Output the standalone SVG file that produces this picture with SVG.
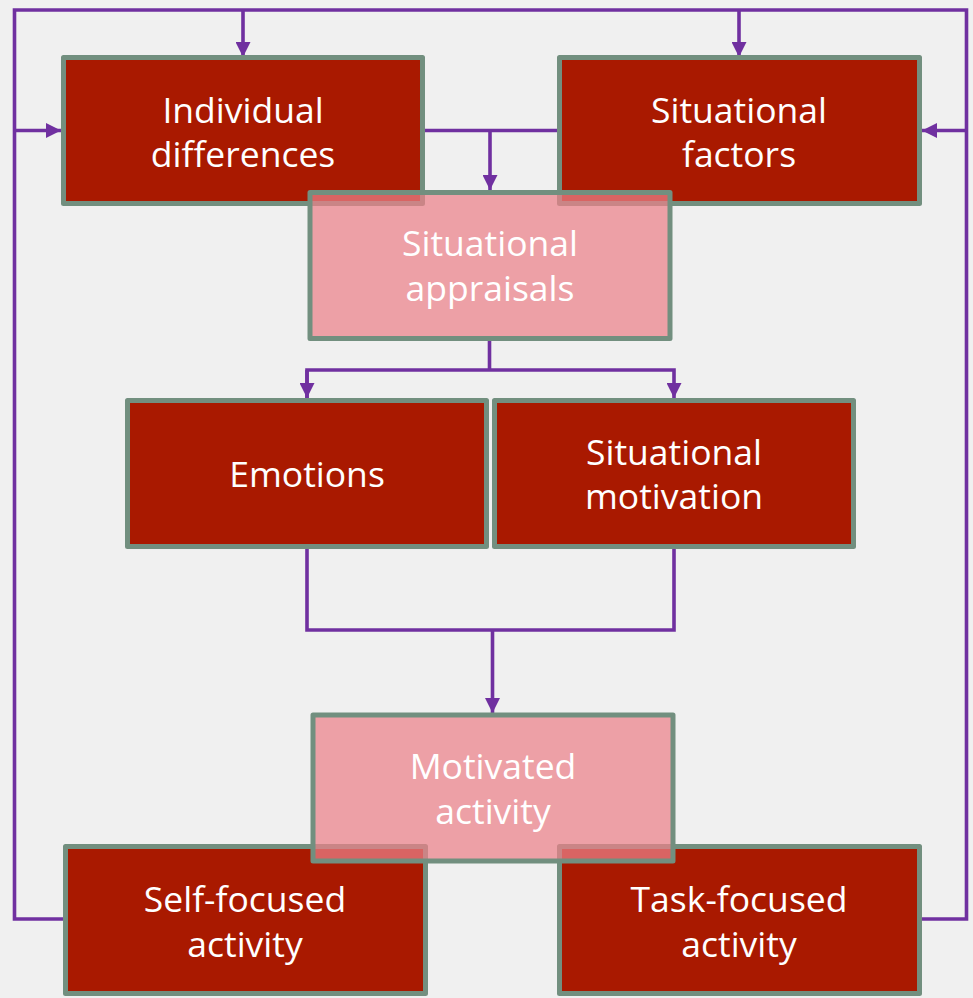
<svg xmlns="http://www.w3.org/2000/svg" width="973" height="998" viewBox="0 0 973 998">
  <style>
    .box { fill: #a91900; stroke: #728f7f; stroke-width: 5; stroke-linejoin: round; }
    .soft { fill: #ec8189; fill-opacity: 0.72; stroke: #728f7f; stroke-width: 5; stroke-linejoin: round; }
    .lbl { font-family: "Open Sans", "Noto Sans", sans-serif; font-size: 35.5px; fill: #ffffff; text-anchor: middle; }
    .wire { fill: none; stroke: #7030a0; stroke-width: 3.6; }
  </style>
  <defs>
    <marker id="tip" viewBox="0 0 10 10" refX="10" refY="5" markerWidth="15" markerHeight="15" orient="auto" markerUnits="userSpaceOnUse">
      <path d="M0,0 L10,5 L0,10 Z" fill="#7030a0"/>
    </marker>
  </defs>
  <rect width="973" height="998" fill="#f0f0f0"/>

  <g id="connectors">
    <!-- outer feedback loop -->
    <path class="wire" d="M65,919 H14.5 V10 H966.5 V919 H920"/>
    <path class="wire" d="M243,10 V57" marker-end="url(#tip)"/>
    <path class="wire" d="M739,10 V57" marker-end="url(#tip)"/>
    <path class="wire" d="M14.5,130.5 H61" marker-end="url(#tip)"/>
    <path class="wire" d="M966.5,130.5 H922" marker-end="url(#tip)"/>
    <!-- inputs to appraisals -->
    <path class="wire" d="M425,130.5 H557"/>
    <path class="wire" d="M490,130.5 V190" marker-end="url(#tip)"/>
    <!-- appraisals to emotions / motivation -->
    <path class="wire" d="M489.5,341 V370"/>
    <path class="wire" d="M307,398 V370 H674 V398" marker-end="url(#tip)"/>
    <path class="wire" d="M307,370 V398" marker-end="url(#tip)"/>
    <!-- emotions / motivation to activity -->
    <path class="wire" d="M307,549 V630 H674 V549"/>
    <path class="wire" d="M492.5,630 V713" marker-end="url(#tip)"/>
  </g>

  <g id="individual-differences">
    <rect class="box" x="63.5" y="57.5" width="359" height="146"/>
    <text class="lbl" x="243" y="123">Individual</text>
    <text class="lbl" x="243" y="167">differences</text>
  </g>
  <g id="situational-factors">
    <rect class="box" x="559.5" y="57.5" width="360" height="146"/>
    <text class="lbl" x="739" y="123">Situational</text>
    <text class="lbl" x="739" y="167">factors</text>
  </g>
  <g id="emotions">
    <rect class="box" x="127.5" y="400.5" width="359" height="146"/>
    <text class="lbl" x="307" y="487">Emotions</text>
  </g>
  <g id="situational-motivation">
    <rect class="box" x="494.5" y="400.5" width="359" height="146"/>
    <text class="lbl" x="674" y="465">Situational</text>
    <text class="lbl" x="674" y="509">motivation</text>
  </g>
  <g id="self-focused-activity">
    <rect class="box" x="65.5" y="846.5" width="360" height="147"/>
    <text class="lbl" x="245" y="912">Self-focused</text>
    <text class="lbl" x="245" y="957">activity</text>
  </g>
  <g id="task-focused-activity">
    <rect class="box" x="559.5" y="846.5" width="360" height="147"/>
    <text class="lbl" x="739" y="912">Task-focused</text>
    <text class="lbl" x="739" y="957">activity</text>
  </g>
  <g id="situational-appraisals">
    <rect class="soft" x="310" y="192.5" width="360" height="146"/>
    <text class="lbl" x="490" y="256">Situational</text>
    <text class="lbl" x="490" y="301">appraisals</text>
  </g>
  <g id="motivated-activity">
    <rect class="soft" x="313" y="715" width="360" height="146"/>
    <text class="lbl" x="493" y="779">Motivated</text>
    <text class="lbl" x="493" y="824">activity</text>
  </g>
</svg>
